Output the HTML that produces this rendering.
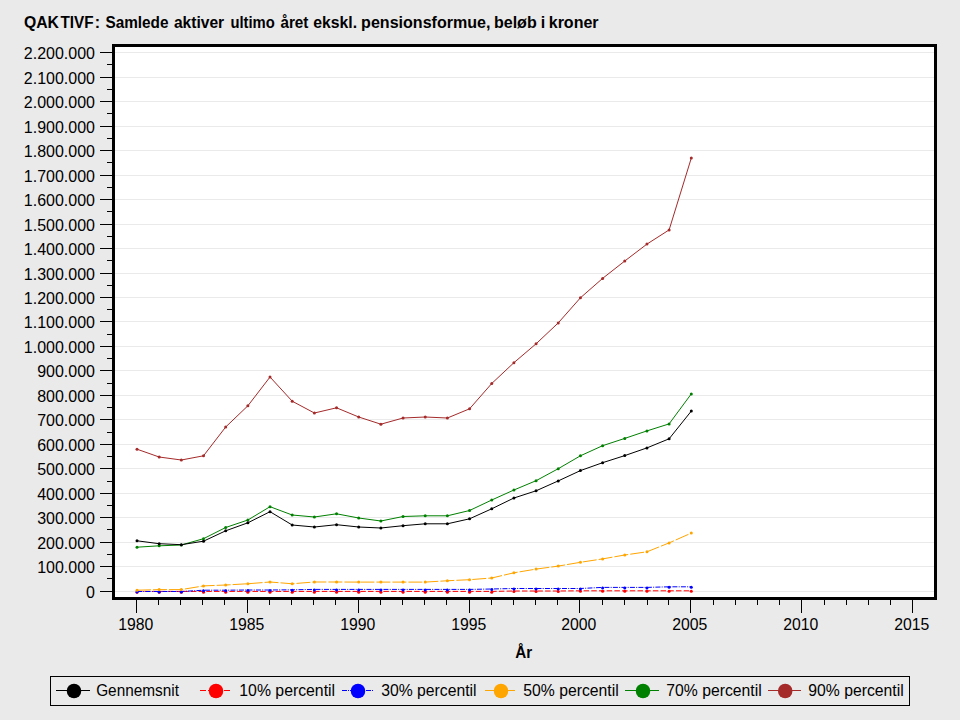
<!DOCTYPE html>
<html><head><meta charset="utf-8"><style>
html,body{margin:0;padding:0;background:#eaeaea;width:960px;height:720px;overflow:hidden}
svg{display:block}
text{font-family:"Liberation Sans",sans-serif;font-size:16px;fill:#000}
</style></head><body>
<svg width="960" height="720" viewBox="0 0 960 720">
<rect x="112" y="44" width="825" height="556" fill="#fff"/><line x1="115" x2="934" y1="591.5" y2="591.5" stroke="#eaeaea" stroke-width="1"/><line x1="115" x2="934" y1="566.5" y2="566.5" stroke="#eaeaea" stroke-width="1"/><line x1="115" x2="934" y1="542.5" y2="542.5" stroke="#eaeaea" stroke-width="1"/><line x1="115" x2="934" y1="517.5" y2="517.5" stroke="#eaeaea" stroke-width="1"/><line x1="115" x2="934" y1="493.5" y2="493.5" stroke="#eaeaea" stroke-width="1"/><line x1="115" x2="934" y1="468.5" y2="468.5" stroke="#eaeaea" stroke-width="1"/><line x1="115" x2="934" y1="444.5" y2="444.5" stroke="#eaeaea" stroke-width="1"/><line x1="115" x2="934" y1="419.5" y2="419.5" stroke="#eaeaea" stroke-width="1"/><line x1="115" x2="934" y1="395.5" y2="395.5" stroke="#eaeaea" stroke-width="1"/><line x1="115" x2="934" y1="370.5" y2="370.5" stroke="#eaeaea" stroke-width="1"/><line x1="115" x2="934" y1="346.5" y2="346.5" stroke="#eaeaea" stroke-width="1"/><line x1="115" x2="934" y1="321.5" y2="321.5" stroke="#eaeaea" stroke-width="1"/><line x1="115" x2="934" y1="297.5" y2="297.5" stroke="#eaeaea" stroke-width="1"/><line x1="115" x2="934" y1="273.5" y2="273.5" stroke="#eaeaea" stroke-width="1"/><line x1="115" x2="934" y1="248.5" y2="248.5" stroke="#eaeaea" stroke-width="1"/><line x1="115" x2="934" y1="224.5" y2="224.5" stroke="#eaeaea" stroke-width="1"/><line x1="115" x2="934" y1="199.5" y2="199.5" stroke="#eaeaea" stroke-width="1"/><line x1="115" x2="934" y1="175.5" y2="175.5" stroke="#eaeaea" stroke-width="1"/><line x1="115" x2="934" y1="150.5" y2="150.5" stroke="#eaeaea" stroke-width="1"/><line x1="115" x2="934" y1="126.5" y2="126.5" stroke="#eaeaea" stroke-width="1"/><line x1="115" x2="934" y1="101.5" y2="101.5" stroke="#eaeaea" stroke-width="1"/><line x1="115" x2="934" y1="77.5" y2="77.5" stroke="#eaeaea" stroke-width="1"/><line x1="115" x2="934" y1="52.5" y2="52.5" stroke="#eaeaea" stroke-width="1"/><polyline points="137.00,591.40 159.17,591.40 181.34,591.40 203.51,591.40 225.69,591.40 247.86,591.40 270.03,591.40 292.20,591.40 314.37,591.40 336.54,591.40 358.71,591.40 380.89,591.40 403.06,591.40 425.23,591.40 447.40,591.40 469.57,591.40 491.74,591.40 513.91,591.00 536.09,591.00 558.26,591.00 580.43,590.80 602.60,590.80 624.77,590.80 646.94,590.80 669.11,590.80 691.29,590.80" fill="none" stroke="#ff0000" stroke-width="1" stroke-dasharray="5.5 2.2"/><circle cx="137.00" cy="592.30" r="1.5" fill="#ff0000"/><circle cx="159.17" cy="592.30" r="1.5" fill="#ff0000"/><circle cx="181.34" cy="592.30" r="1.5" fill="#ff0000"/><circle cx="203.51" cy="592.30" r="1.5" fill="#ff0000"/><circle cx="225.69" cy="592.30" r="1.5" fill="#ff0000"/><circle cx="247.86" cy="592.30" r="1.5" fill="#ff0000"/><circle cx="270.03" cy="592.30" r="1.5" fill="#ff0000"/><circle cx="292.20" cy="592.30" r="1.5" fill="#ff0000"/><circle cx="314.37" cy="592.30" r="1.5" fill="#ff0000"/><circle cx="336.54" cy="592.30" r="1.5" fill="#ff0000"/><circle cx="358.71" cy="592.30" r="1.5" fill="#ff0000"/><circle cx="380.89" cy="592.30" r="1.5" fill="#ff0000"/><circle cx="403.06" cy="592.30" r="1.5" fill="#ff0000"/><circle cx="425.23" cy="592.30" r="1.5" fill="#ff0000"/><circle cx="447.40" cy="592.30" r="1.5" fill="#ff0000"/><circle cx="469.57" cy="592.30" r="1.5" fill="#ff0000"/><circle cx="491.74" cy="592.30" r="1.5" fill="#ff0000"/><circle cx="513.91" cy="591.40" r="1.5" fill="#ff0000"/><circle cx="536.09" cy="591.40" r="1.5" fill="#ff0000"/><circle cx="558.26" cy="591.40" r="1.5" fill="#ff0000"/><circle cx="580.43" cy="591.20" r="1.5" fill="#ff0000"/><circle cx="602.60" cy="591.20" r="1.5" fill="#ff0000"/><circle cx="624.77" cy="591.20" r="1.5" fill="#ff0000"/><circle cx="646.94" cy="591.20" r="1.5" fill="#ff0000"/><circle cx="669.11" cy="591.20" r="1.5" fill="#ff0000"/><circle cx="691.29" cy="591.20" r="1.5" fill="#ff0000"/><polyline points="137.00,591.50 159.17,591.50 181.34,591.50 203.51,590.20 225.69,590.20 247.86,590.00 270.03,590.00 292.20,589.80 314.37,589.40 336.54,589.40 358.71,589.40 380.89,589.40 403.06,589.40 425.23,589.40 447.40,589.40 469.57,589.40 491.74,589.00 513.91,588.50 536.09,588.50 558.26,588.50 580.43,588.50 602.60,587.40 624.77,587.40 646.94,587.40 669.11,586.80 691.29,586.80" fill="none" stroke="#0000ff" stroke-width="1" stroke-dasharray="5 1.25 1 1.25"/><circle cx="137.00" cy="592.00" r="1.5" fill="#0000ff"/><circle cx="159.17" cy="592.00" r="1.5" fill="#0000ff"/><circle cx="181.34" cy="592.00" r="1.5" fill="#0000ff"/><circle cx="203.51" cy="590.70" r="1.5" fill="#0000ff"/><circle cx="225.69" cy="590.70" r="1.5" fill="#0000ff"/><circle cx="247.86" cy="590.50" r="1.5" fill="#0000ff"/><circle cx="270.03" cy="590.50" r="1.5" fill="#0000ff"/><circle cx="292.20" cy="590.30" r="1.5" fill="#0000ff"/><circle cx="314.37" cy="589.90" r="1.5" fill="#0000ff"/><circle cx="336.54" cy="589.90" r="1.5" fill="#0000ff"/><circle cx="358.71" cy="589.90" r="1.5" fill="#0000ff"/><circle cx="380.89" cy="589.90" r="1.5" fill="#0000ff"/><circle cx="403.06" cy="589.90" r="1.5" fill="#0000ff"/><circle cx="425.23" cy="589.90" r="1.5" fill="#0000ff"/><circle cx="447.40" cy="589.90" r="1.5" fill="#0000ff"/><circle cx="469.57" cy="589.90" r="1.5" fill="#0000ff"/><circle cx="491.74" cy="589.50" r="1.5" fill="#0000ff"/><circle cx="513.91" cy="589.00" r="1.5" fill="#0000ff"/><circle cx="536.09" cy="589.00" r="1.5" fill="#0000ff"/><circle cx="558.26" cy="589.00" r="1.5" fill="#0000ff"/><circle cx="580.43" cy="589.00" r="1.5" fill="#0000ff"/><circle cx="602.60" cy="587.90" r="1.5" fill="#0000ff"/><circle cx="624.77" cy="587.90" r="1.5" fill="#0000ff"/><circle cx="646.94" cy="587.90" r="1.5" fill="#0000ff"/><circle cx="669.11" cy="587.30" r="1.5" fill="#0000ff"/><circle cx="691.29" cy="587.30" r="1.5" fill="#0000ff"/><polyline points="137.00,590.20 159.17,589.60 181.34,589.60 203.51,585.90 225.69,585.00 247.86,583.75 270.03,582.00 292.20,583.75 314.37,582.00 336.54,582.00 358.71,582.10 380.89,582.10 403.06,582.10 425.23,582.10 447.40,580.75 469.57,579.70 491.74,578.00 513.91,572.80 536.09,569.10 558.26,566.10 580.43,562.30 602.60,558.90 624.77,555.00 646.94,551.80 669.11,542.90 691.29,533.10" fill="none" stroke="#ffa500" stroke-width="1" stroke-dasharray="14 2"/><circle cx="137.00" cy="590.20" r="1.5" fill="#ffa500"/><circle cx="159.17" cy="589.60" r="1.5" fill="#ffa500"/><circle cx="181.34" cy="589.60" r="1.5" fill="#ffa500"/><circle cx="203.51" cy="585.90" r="1.5" fill="#ffa500"/><circle cx="225.69" cy="585.00" r="1.5" fill="#ffa500"/><circle cx="247.86" cy="583.75" r="1.5" fill="#ffa500"/><circle cx="270.03" cy="582.00" r="1.5" fill="#ffa500"/><circle cx="292.20" cy="583.75" r="1.5" fill="#ffa500"/><circle cx="314.37" cy="582.00" r="1.5" fill="#ffa500"/><circle cx="336.54" cy="582.00" r="1.5" fill="#ffa500"/><circle cx="358.71" cy="582.10" r="1.5" fill="#ffa500"/><circle cx="380.89" cy="582.10" r="1.5" fill="#ffa500"/><circle cx="403.06" cy="582.10" r="1.5" fill="#ffa500"/><circle cx="425.23" cy="582.10" r="1.5" fill="#ffa500"/><circle cx="447.40" cy="580.75" r="1.5" fill="#ffa500"/><circle cx="469.57" cy="579.70" r="1.5" fill="#ffa500"/><circle cx="491.74" cy="578.00" r="1.5" fill="#ffa500"/><circle cx="513.91" cy="572.80" r="1.5" fill="#ffa500"/><circle cx="536.09" cy="569.10" r="1.5" fill="#ffa500"/><circle cx="558.26" cy="566.10" r="1.5" fill="#ffa500"/><circle cx="580.43" cy="562.30" r="1.5" fill="#ffa500"/><circle cx="602.60" cy="558.90" r="1.5" fill="#ffa500"/><circle cx="624.77" cy="555.00" r="1.5" fill="#ffa500"/><circle cx="646.94" cy="551.80" r="1.5" fill="#ffa500"/><circle cx="669.11" cy="542.90" r="1.5" fill="#ffa500"/><circle cx="691.29" cy="533.10" r="1.5" fill="#ffa500"/><polyline points="137.00,547.20 159.17,545.80 181.34,545.00 203.51,538.70 225.69,527.50 247.86,520.00 270.03,506.70 292.20,515.00 314.37,517.00 336.54,513.80 358.71,518.00 380.89,521.00 403.06,516.50 425.23,515.80 447.40,515.80 469.57,510.50 491.74,500.00 513.91,490.00 536.09,480.70 558.26,468.70 580.43,455.80 602.60,445.70 624.77,438.40 646.94,430.90 669.11,423.90 691.29,393.90" fill="none" stroke="#008000" stroke-width="1"/><circle cx="137.00" cy="547.20" r="1.5" fill="#008000"/><circle cx="159.17" cy="545.80" r="1.5" fill="#008000"/><circle cx="181.34" cy="545.00" r="1.5" fill="#008000"/><circle cx="203.51" cy="538.70" r="1.5" fill="#008000"/><circle cx="225.69" cy="527.50" r="1.5" fill="#008000"/><circle cx="247.86" cy="520.00" r="1.5" fill="#008000"/><circle cx="270.03" cy="506.70" r="1.5" fill="#008000"/><circle cx="292.20" cy="515.00" r="1.5" fill="#008000"/><circle cx="314.37" cy="517.00" r="1.5" fill="#008000"/><circle cx="336.54" cy="513.80" r="1.5" fill="#008000"/><circle cx="358.71" cy="518.00" r="1.5" fill="#008000"/><circle cx="380.89" cy="521.00" r="1.5" fill="#008000"/><circle cx="403.06" cy="516.50" r="1.5" fill="#008000"/><circle cx="425.23" cy="515.80" r="1.5" fill="#008000"/><circle cx="447.40" cy="515.80" r="1.5" fill="#008000"/><circle cx="469.57" cy="510.50" r="1.5" fill="#008000"/><circle cx="491.74" cy="500.00" r="1.5" fill="#008000"/><circle cx="513.91" cy="490.00" r="1.5" fill="#008000"/><circle cx="536.09" cy="480.70" r="1.5" fill="#008000"/><circle cx="558.26" cy="468.70" r="1.5" fill="#008000"/><circle cx="580.43" cy="455.80" r="1.5" fill="#008000"/><circle cx="602.60" cy="445.70" r="1.5" fill="#008000"/><circle cx="624.77" cy="438.40" r="1.5" fill="#008000"/><circle cx="646.94" cy="430.90" r="1.5" fill="#008000"/><circle cx="669.11" cy="423.90" r="1.5" fill="#008000"/><circle cx="691.29" cy="393.90" r="1.5" fill="#008000"/><polyline points="137.00,540.80 159.17,543.70 181.34,544.70 203.51,541.20 225.69,530.80 247.86,522.80 270.03,511.70 292.20,525.00 314.37,527.00 336.54,524.70 358.71,527.00 380.89,528.00 403.06,525.70 425.23,523.80 447.40,523.80 469.57,518.80 491.74,508.80 513.91,498.00 536.09,490.80 558.26,480.90 580.43,470.60 602.60,462.70 624.77,455.60 646.94,447.90 669.11,438.80 691.29,411.10" fill="none" stroke="#000000" stroke-width="1"/><circle cx="137.00" cy="540.80" r="1.5" fill="#000000"/><circle cx="159.17" cy="543.70" r="1.5" fill="#000000"/><circle cx="181.34" cy="544.70" r="1.5" fill="#000000"/><circle cx="203.51" cy="541.20" r="1.5" fill="#000000"/><circle cx="225.69" cy="530.80" r="1.5" fill="#000000"/><circle cx="247.86" cy="522.80" r="1.5" fill="#000000"/><circle cx="270.03" cy="511.70" r="1.5" fill="#000000"/><circle cx="292.20" cy="525.00" r="1.5" fill="#000000"/><circle cx="314.37" cy="527.00" r="1.5" fill="#000000"/><circle cx="336.54" cy="524.70" r="1.5" fill="#000000"/><circle cx="358.71" cy="527.00" r="1.5" fill="#000000"/><circle cx="380.89" cy="528.00" r="1.5" fill="#000000"/><circle cx="403.06" cy="525.70" r="1.5" fill="#000000"/><circle cx="425.23" cy="523.80" r="1.5" fill="#000000"/><circle cx="447.40" cy="523.80" r="1.5" fill="#000000"/><circle cx="469.57" cy="518.80" r="1.5" fill="#000000"/><circle cx="491.74" cy="508.80" r="1.5" fill="#000000"/><circle cx="513.91" cy="498.00" r="1.5" fill="#000000"/><circle cx="536.09" cy="490.80" r="1.5" fill="#000000"/><circle cx="558.26" cy="480.90" r="1.5" fill="#000000"/><circle cx="580.43" cy="470.60" r="1.5" fill="#000000"/><circle cx="602.60" cy="462.70" r="1.5" fill="#000000"/><circle cx="624.77" cy="455.60" r="1.5" fill="#000000"/><circle cx="646.94" cy="447.90" r="1.5" fill="#000000"/><circle cx="669.11" cy="438.80" r="1.5" fill="#000000"/><circle cx="691.29" cy="411.10" r="1.5" fill="#000000"/><polyline points="137.00,449.20 159.17,457.00 181.34,460.00 203.51,455.80 225.69,427.00 247.86,405.80 270.03,377.00 292.20,401.20 314.37,413.00 336.54,407.80 358.71,417.00 380.89,424.20 403.06,418.00 425.23,417.00 447.40,418.00 469.57,408.80 491.74,383.50 513.91,362.70 536.09,343.80 558.26,322.90 580.43,297.80 602.60,278.40 624.77,261.00 646.94,244.10 669.11,229.90 691.29,158.10" fill="none" stroke="#a52a2a" stroke-width="1"/><circle cx="137.00" cy="449.20" r="1.5" fill="#a52a2a"/><circle cx="159.17" cy="457.00" r="1.5" fill="#a52a2a"/><circle cx="181.34" cy="460.00" r="1.5" fill="#a52a2a"/><circle cx="203.51" cy="455.80" r="1.5" fill="#a52a2a"/><circle cx="225.69" cy="427.00" r="1.5" fill="#a52a2a"/><circle cx="247.86" cy="405.80" r="1.5" fill="#a52a2a"/><circle cx="270.03" cy="377.00" r="1.5" fill="#a52a2a"/><circle cx="292.20" cy="401.20" r="1.5" fill="#a52a2a"/><circle cx="314.37" cy="413.00" r="1.5" fill="#a52a2a"/><circle cx="336.54" cy="407.80" r="1.5" fill="#a52a2a"/><circle cx="358.71" cy="417.00" r="1.5" fill="#a52a2a"/><circle cx="380.89" cy="424.20" r="1.5" fill="#a52a2a"/><circle cx="403.06" cy="418.00" r="1.5" fill="#a52a2a"/><circle cx="425.23" cy="417.00" r="1.5" fill="#a52a2a"/><circle cx="447.40" cy="418.00" r="1.5" fill="#a52a2a"/><circle cx="469.57" cy="408.80" r="1.5" fill="#a52a2a"/><circle cx="491.74" cy="383.50" r="1.5" fill="#a52a2a"/><circle cx="513.91" cy="362.70" r="1.5" fill="#a52a2a"/><circle cx="536.09" cy="343.80" r="1.5" fill="#a52a2a"/><circle cx="558.26" cy="322.90" r="1.5" fill="#a52a2a"/><circle cx="580.43" cy="297.80" r="1.5" fill="#a52a2a"/><circle cx="602.60" cy="278.40" r="1.5" fill="#a52a2a"/><circle cx="624.77" cy="261.00" r="1.5" fill="#a52a2a"/><circle cx="646.94" cy="244.10" r="1.5" fill="#a52a2a"/><circle cx="669.11" cy="229.90" r="1.5" fill="#a52a2a"/><circle cx="691.29" cy="158.10" r="1.5" fill="#a52a2a"/><rect x="113.5" y="45.5" width="822" height="553" fill="none" stroke="#000" stroke-width="3"/><line x1="100" x2="112" y1="591.5" y2="591.5" stroke="#000" stroke-width="1"/><line x1="100" x2="112" y1="566.5" y2="566.5" stroke="#000" stroke-width="1"/><line x1="100" x2="112" y1="542.5" y2="542.5" stroke="#000" stroke-width="1"/><line x1="100" x2="112" y1="517.5" y2="517.5" stroke="#000" stroke-width="1"/><line x1="100" x2="112" y1="493.5" y2="493.5" stroke="#000" stroke-width="1"/><line x1="100" x2="112" y1="468.5" y2="468.5" stroke="#000" stroke-width="1"/><line x1="100" x2="112" y1="444.5" y2="444.5" stroke="#000" stroke-width="1"/><line x1="100" x2="112" y1="419.5" y2="419.5" stroke="#000" stroke-width="1"/><line x1="100" x2="112" y1="395.5" y2="395.5" stroke="#000" stroke-width="1"/><line x1="100" x2="112" y1="370.5" y2="370.5" stroke="#000" stroke-width="1"/><line x1="100" x2="112" y1="346.5" y2="346.5" stroke="#000" stroke-width="1"/><line x1="100" x2="112" y1="321.5" y2="321.5" stroke="#000" stroke-width="1"/><line x1="100" x2="112" y1="297.5" y2="297.5" stroke="#000" stroke-width="1"/><line x1="100" x2="112" y1="273.5" y2="273.5" stroke="#000" stroke-width="1"/><line x1="100" x2="112" y1="248.5" y2="248.5" stroke="#000" stroke-width="1"/><line x1="100" x2="112" y1="224.5" y2="224.5" stroke="#000" stroke-width="1"/><line x1="100" x2="112" y1="199.5" y2="199.5" stroke="#000" stroke-width="1"/><line x1="100" x2="112" y1="175.5" y2="175.5" stroke="#000" stroke-width="1"/><line x1="100" x2="112" y1="150.5" y2="150.5" stroke="#000" stroke-width="1"/><line x1="100" x2="112" y1="126.5" y2="126.5" stroke="#000" stroke-width="1"/><line x1="100" x2="112" y1="101.5" y2="101.5" stroke="#000" stroke-width="1"/><line x1="100" x2="112" y1="77.5" y2="77.5" stroke="#000" stroke-width="1"/><line x1="100" x2="112" y1="52.5" y2="52.5" stroke="#000" stroke-width="1"/><line x1="107" x2="112" y1="578.5" y2="578.5" stroke="#000" stroke-width="1"/><line x1="107" x2="112" y1="554.5" y2="554.5" stroke="#000" stroke-width="1"/><line x1="107" x2="112" y1="529.5" y2="529.5" stroke="#000" stroke-width="1"/><line x1="107" x2="112" y1="505.5" y2="505.5" stroke="#000" stroke-width="1"/><line x1="107" x2="112" y1="481.5" y2="481.5" stroke="#000" stroke-width="1"/><line x1="107" x2="112" y1="456.5" y2="456.5" stroke="#000" stroke-width="1"/><line x1="107" x2="112" y1="432.5" y2="432.5" stroke="#000" stroke-width="1"/><line x1="107" x2="112" y1="407.5" y2="407.5" stroke="#000" stroke-width="1"/><line x1="107" x2="112" y1="383.5" y2="383.5" stroke="#000" stroke-width="1"/><line x1="107" x2="112" y1="358.5" y2="358.5" stroke="#000" stroke-width="1"/><line x1="107" x2="112" y1="334.5" y2="334.5" stroke="#000" stroke-width="1"/><line x1="107" x2="112" y1="309.5" y2="309.5" stroke="#000" stroke-width="1"/><line x1="107" x2="112" y1="285.5" y2="285.5" stroke="#000" stroke-width="1"/><line x1="107" x2="112" y1="260.5" y2="260.5" stroke="#000" stroke-width="1"/><line x1="107" x2="112" y1="236.5" y2="236.5" stroke="#000" stroke-width="1"/><line x1="107" x2="112" y1="211.5" y2="211.5" stroke="#000" stroke-width="1"/><line x1="107" x2="112" y1="187.5" y2="187.5" stroke="#000" stroke-width="1"/><line x1="107" x2="112" y1="162.5" y2="162.5" stroke="#000" stroke-width="1"/><line x1="107" x2="112" y1="138.5" y2="138.5" stroke="#000" stroke-width="1"/><line x1="107" x2="112" y1="113.5" y2="113.5" stroke="#000" stroke-width="1"/><line x1="107" x2="112" y1="89.5" y2="89.5" stroke="#000" stroke-width="1"/><line x1="107" x2="112" y1="64.5" y2="64.5" stroke="#000" stroke-width="1"/><line x1="136.5" x2="136.5" y1="600" y2="613" stroke="#000" stroke-width="1"/><line x1="158.5" x2="158.5" y1="600" y2="605" stroke="#000" stroke-width="1"/><line x1="180.5" x2="180.5" y1="600" y2="605" stroke="#000" stroke-width="1"/><line x1="202.5" x2="202.5" y1="600" y2="605" stroke="#000" stroke-width="1"/><line x1="224.5" x2="224.5" y1="600" y2="605" stroke="#000" stroke-width="1"/><line x1="247.5" x2="247.5" y1="600" y2="613" stroke="#000" stroke-width="1"/><line x1="269.5" x2="269.5" y1="600" y2="605" stroke="#000" stroke-width="1"/><line x1="291.5" x2="291.5" y1="600" y2="605" stroke="#000" stroke-width="1"/><line x1="313.5" x2="313.5" y1="600" y2="605" stroke="#000" stroke-width="1"/><line x1="335.5" x2="335.5" y1="600" y2="605" stroke="#000" stroke-width="1"/><line x1="358.5" x2="358.5" y1="600" y2="613" stroke="#000" stroke-width="1"/><line x1="380.5" x2="380.5" y1="600" y2="605" stroke="#000" stroke-width="1"/><line x1="402.5" x2="402.5" y1="600" y2="605" stroke="#000" stroke-width="1"/><line x1="424.5" x2="424.5" y1="600" y2="605" stroke="#000" stroke-width="1"/><line x1="446.5" x2="446.5" y1="600" y2="605" stroke="#000" stroke-width="1"/><line x1="469.5" x2="469.5" y1="600" y2="613" stroke="#000" stroke-width="1"/><line x1="491.5" x2="491.5" y1="600" y2="605" stroke="#000" stroke-width="1"/><line x1="513.5" x2="513.5" y1="600" y2="605" stroke="#000" stroke-width="1"/><line x1="535.5" x2="535.5" y1="600" y2="605" stroke="#000" stroke-width="1"/><line x1="557.5" x2="557.5" y1="600" y2="605" stroke="#000" stroke-width="1"/><line x1="579.5" x2="579.5" y1="600" y2="613" stroke="#000" stroke-width="1"/><line x1="602.5" x2="602.5" y1="600" y2="605" stroke="#000" stroke-width="1"/><line x1="624.5" x2="624.5" y1="600" y2="605" stroke="#000" stroke-width="1"/><line x1="647.5" x2="647.5" y1="600" y2="605" stroke="#000" stroke-width="1"/><line x1="668.5" x2="668.5" y1="600" y2="605" stroke="#000" stroke-width="1"/><line x1="690.5" x2="690.5" y1="600" y2="613" stroke="#000" stroke-width="1"/><line x1="713.5" x2="713.5" y1="600" y2="605" stroke="#000" stroke-width="1"/><line x1="735.5" x2="735.5" y1="600" y2="605" stroke="#000" stroke-width="1"/><line x1="757.5" x2="757.5" y1="600" y2="605" stroke="#000" stroke-width="1"/><line x1="779.5" x2="779.5" y1="600" y2="605" stroke="#000" stroke-width="1"/><line x1="801.5" x2="801.5" y1="600" y2="613" stroke="#000" stroke-width="1"/><line x1="824.5" x2="824.5" y1="600" y2="605" stroke="#000" stroke-width="1"/><line x1="846.5" x2="846.5" y1="600" y2="605" stroke="#000" stroke-width="1"/><line x1="868.5" x2="868.5" y1="600" y2="605" stroke="#000" stroke-width="1"/><line x1="890.5" x2="890.5" y1="600" y2="605" stroke="#000" stroke-width="1"/><line x1="912.5" x2="912.5" y1="600" y2="613" stroke="#000" stroke-width="1"/>
<text x="95" y="597.5" text-anchor="end">0</text><text x="95" y="572.5" text-anchor="end">100.000</text><text x="95" y="548.5" text-anchor="end">200.000</text><text x="95" y="523.5" text-anchor="end">300.000</text><text x="95" y="499.5" text-anchor="end">400.000</text><text x="95" y="474.5" text-anchor="end">500.000</text><text x="95" y="450.5" text-anchor="end">600.000</text><text x="95" y="425.5" text-anchor="end">700.000</text><text x="95" y="401.5" text-anchor="end">800.000</text><text x="95" y="376.5" text-anchor="end">900.000</text><text x="95" y="352.5" text-anchor="end">1.000.000</text><text x="95" y="327.5" text-anchor="end">1.100.000</text><text x="95" y="303.5" text-anchor="end">1.200.000</text><text x="95" y="279.5" text-anchor="end">1.300.000</text><text x="95" y="254.5" text-anchor="end">1.400.000</text><text x="95" y="230.5" text-anchor="end">1.500.000</text><text x="95" y="205.5" text-anchor="end">1.600.000</text><text x="95" y="181.5" text-anchor="end">1.700.000</text><text x="95" y="156.5" text-anchor="end">1.800.000</text><text x="95" y="132.5" text-anchor="end">1.900.000</text><text x="95" y="107.5" text-anchor="end">2.000.000</text><text x="95" y="83.5" text-anchor="end">2.100.000</text><text x="95" y="58.5" text-anchor="end">2.200.000</text><text x="135.8" y="629.5" text-anchor="middle" textLength="35.1" lengthAdjust="spacingAndGlyphs">1980</text><text x="246.8" y="629.5" text-anchor="middle" textLength="35.1" lengthAdjust="spacingAndGlyphs">1985</text><text x="357.8" y="629.5" text-anchor="middle" textLength="35.1" lengthAdjust="spacingAndGlyphs">1990</text><text x="468.8" y="629.5" text-anchor="middle" textLength="35.1" lengthAdjust="spacingAndGlyphs">1995</text><text x="578.8" y="629.5" text-anchor="middle" textLength="35.1" lengthAdjust="spacingAndGlyphs">2000</text><text x="689.8" y="629.5" text-anchor="middle" textLength="35.1" lengthAdjust="spacingAndGlyphs">2005</text><text x="800.8" y="629.5" text-anchor="middle" textLength="35.1" lengthAdjust="spacingAndGlyphs">2010</text><text x="911.8" y="629.5" text-anchor="middle" textLength="35.1" lengthAdjust="spacingAndGlyphs">2015</text><text x="523.7" y="658" text-anchor="middle" font-weight="bold" textLength="16.9" lengthAdjust="spacingAndGlyphs">År</text><text x="23.96" y="28" font-weight="bold" textLength="35.00" lengthAdjust="spacingAndGlyphs">QAK</text><text x="60.40" y="28" font-weight="bold" textLength="33.13" lengthAdjust="spacingAndGlyphs">TIVF</text><text x="94.74" y="28" font-weight="bold">:</text><text x="105.44" y="28" font-weight="bold" textLength="63.05" lengthAdjust="spacingAndGlyphs">Samlede</text><text x="173.96" y="28" font-weight="bold" textLength="50.19" lengthAdjust="spacingAndGlyphs">aktiver</text><text x="230.44" y="28" font-weight="bold" textLength="44.36" lengthAdjust="spacingAndGlyphs">ultimo</text><text x="280.44" y="28" font-weight="bold" textLength="27.99" lengthAdjust="spacingAndGlyphs">året</text><text x="313.29" y="28" font-weight="bold" textLength="43.82" lengthAdjust="spacingAndGlyphs">ekskl.</text><text x="361.11" y="28" font-weight="bold" textLength="129.40" lengthAdjust="spacingAndGlyphs">pensionsformue,</text><text x="493.96" y="28" font-weight="bold" textLength="42.74" lengthAdjust="spacingAndGlyphs">beløb</text><text x="540.77" y="28" font-weight="bold">i</text><text x="548.74" y="28" font-weight="bold" textLength="49.83" lengthAdjust="spacingAndGlyphs">kroner</text>
<rect x="50.5" y="676.5" width="859" height="29" fill="none" stroke="#000" stroke-width="1"/><line x1="56" x2="90" y1="690.5" y2="690.5" stroke="#000000" stroke-width="1"/><circle cx="74.0" cy="691" r="7.25" fill="#000000"/><text x="96.18" y="695.5" textLength="82.83" lengthAdjust="spacingAndGlyphs">Gennemsnit</text><line x1="200" x2="230" y1="690.5" y2="690.5" stroke="#ff0000" stroke-width="1" stroke-dasharray="6 2"/><circle cx="216.0" cy="691" r="7.25" fill="#ff0000"/><text x="239.32" y="695.5" textLength="95.77" lengthAdjust="spacingAndGlyphs">10% percentil</text><line x1="342" x2="373" y1="690.5" y2="690.5" stroke="#0000ff" stroke-width="1" stroke-dasharray="5 1 1 1"/><circle cx="358.0" cy="691" r="7.25" fill="#0000ff"/><text x="381.26" y="695.5" textLength="95.33" lengthAdjust="spacingAndGlyphs">30% percentil</text><line x1="485" x2="515" y1="690.5" y2="690.5" stroke="#ffa500" stroke-width="1"/><circle cx="501.0" cy="691" r="7.25" fill="#ffa500"/><text x="523.36" y="695.5" textLength="95.33" lengthAdjust="spacingAndGlyphs">50% percentil</text><line x1="625" x2="659" y1="690.5" y2="690.5" stroke="#008000" stroke-width="1"/><circle cx="643.0" cy="691" r="7.25" fill="#008000"/><text x="666.36" y="695.5" textLength="95.33" lengthAdjust="spacingAndGlyphs">70% percentil</text><line x1="768" x2="801" y1="690.5" y2="690.5" stroke="#a52a2a" stroke-width="1"/><circle cx="785.2" cy="691" r="7.25" fill="#a52a2a"/><text x="808.36" y="695.5" textLength="95.33" lengthAdjust="spacingAndGlyphs">90% percentil</text>
</svg>
</body></html>
